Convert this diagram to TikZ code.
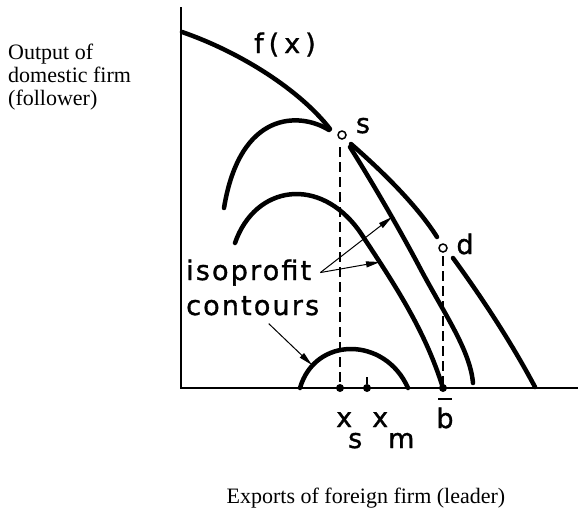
\documentclass[tikz,border=0pt]{standalone}
\usepackage{fontspec}
\setmainfont{Liberation Serif}
\newfontfamily\lett[LetterSpace=8,FakeBold=1.2]{DejaVu Sans}
\usetikzlibrary{arrows.meta}
\begin{document}
\begin{tikzpicture}[x=1pt,y=-1pt,
  curve/.style={line width=4.5pt, line cap=round},
  axis/.style={line width=2pt},
  guide/.style={line width=1.8pt, dash pattern=on 10pt off 5pt},
  pointer/.style={line width=1pt, -{Triangle[length=14pt,width=6pt]}},
  lbl/.style={font=\lett\fontsize{27}{30}\selectfont, inner sep=0pt},
  serif/.style={font=\fontsize{22}{23}\selectfont, inner sep=0pt},
  ring/.style={circle, draw, line width=1.5pt, minimum size=8pt, inner sep=0pt, fill=white},
  dot/.style={circle, fill, minimum size=8pt, inner sep=0pt}]
\useasboundingbox (0,0) rectangle (578,509);

% axes
\coordinate (ytop) at (181,7);
\coordinate (O) at (181,388);
\coordinate (xend) at (578,388);
\draw[axis] (ytop) -- (O) -- (xend);

% f(x)
\draw[curve] (182,32) .. controls (240,52) and (300,90) .. (330,129);
% upper isoprofit contour through s
\draw[curve] (329,130) .. controls (300,112) and (240,110) .. (224,208);
% middle isoprofit contour
\draw[curve] (235,243) .. controls (255,185) and (320,175) .. (360,232)
                       .. controls (395,285) and (425,330) .. (443,388);
% lower isoprofit contour
\draw[curve] (300,388) .. controls (315,336) and (385,336) .. (408,388);
% line from s to d and beyond
\draw[curve] (351,144) .. controls (390,178) and (420,210) .. (437,237);
\draw[curve] (453,258) .. controls (480,295) and (510,340) .. (535,387);
% second line from s
\draw[curve] (350,147) .. controls (372,182) and (400,230) .. (420,268)
                       .. controls (445,315) and (470,350) .. (473,383);

% points
\node[ring] (s) at (342,135) {};
\node[ring] (d) at (443,248) {};
\node[dot] (xsdot) at (340,388) {};
\node[dot] (xmdot) at (367,388) {};
\node[dot] (bdot) at (443,388) {};
\coordinate (xmtick) at (367,377);
\draw[axis] (xmtick) -- (xmdot);
\coordinate (sdash) at (340,147);
\coordinate (ddash) at (443,256);
\draw[guide] (sdash) -- (xsdot);
\draw[guide] (ddash) -- (bdot);

% labels
\node[lbl, anchor=base west] (fx) at (254,53) {f\hspace{5pt}(\hspace{5pt}x\hspace{5pt})};
\node[lbl, anchor=base] (slbl) at (363,133) {s};
\node[lbl, anchor=base] (dlbl) at (465,254) {d};
\node[lbl, anchor=base west] (xs) at (336,427) {x\kern-4pt\raisebox{-21pt}{s}};
\node[lbl, anchor=base west] (xm) at (372,427) {x\raisebox{-21pt}{m}};
\node[lbl, anchor=base] (bl) at (445,428) {b};
\draw[axis] ([xshift=-7pt,yshift=8pt]bl.north) -- ([xshift=7pt,yshift=8pt]bl.north);

\node[lbl, anchor=base west] (iso1) at (186,280) {isoprofit};
\node[lbl, anchor=base west] (iso2) at (186,315) {contours};

\coordinate (a1) at (392,217);
\coordinate (a2) at (380,262);
\coordinate (a3) at (312,365);
\draw[pointer] ([xshift=9pt]iso1.east) -- (a1);
\draw[pointer] ([xshift=9pt]iso1.east) -- (a2);
\draw[pointer] ([xshift=16pt,yshift=-8pt]iso2.south) -- (a3);

\node[serif, anchor=north west, align=left] (ylbl) at (8,44) {Output of\\domestic firm\\(follower)};
\node[serif, anchor=base] (xlbl) at (366,503) {Exports of foreign firm (leader)};
\end{tikzpicture}
\end{document}
